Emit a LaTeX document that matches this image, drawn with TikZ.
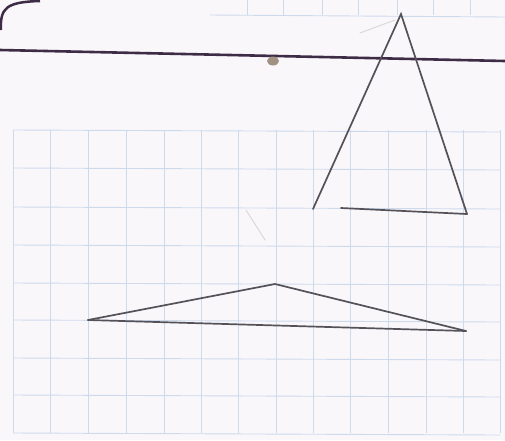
\documentclass[tikz,border=0pt]{standalone}
\definecolor{paper}{RGB}{249,247,250}
\definecolor{gridblue}{RGB}{204,218,236}
\definecolor{pencil}{RGB}{84,82,88}
\definecolor{ink}{RGB}{62,44,70}
\definecolor{smudge}{RGB}{160,145,130}
\tikzset{
  gridline/.style={draw=gridblue, line width=0.9pt},
  pencilline/.style={draw=pencil, line width=1.7pt, line cap=round},
  faint/.style={draw=pencil!22, line width=1pt, line cap=round},
}
\begin{document}
\begin{tikzpicture}[x=1pt,y=-1pt]
\fill[paper] (0,0) rectangle (505,440);
\useasboundingbox (0,0) rectangle (505,440);
% main grid
\foreach \x in {13,50,88,126,164,201,238,276,313,350,388,426,463,500}
  \draw[gridline] (\x,130) -- (\x,433);
\foreach \y in {130,168,207,245,283,320,358,395,433}
  \draw[gridline] (13,\y) -- (500,\y+2);
% top strip of grid
\draw[gridline] (210,15) -- (505,17);
\foreach \x in {247,283,322,358,397,433,470}
  \draw[gridline] (\x,0) -- (\x,15);
% corner scribble
\draw[draw=ink, line width=2.5pt] (1,30) .. controls (0,8) and (6,2) .. (40,1);
% ruled line
\coordinate (hl) at (0,50);
\coordinate (hr) at (505,61);
\draw[draw=ink, line width=2.6pt] (hl) -- (hr);
% smudge
\fill[smudge] (273,61) ellipse [x radius=6, y radius=4.5];
% faint marks
\draw[faint] (360,33) -- (395,20);
\draw[faint] (246,210) -- (265,240);
% top triangle
\coordinate (TA) at (401,14);
\coordinate (TL) at (313,209);
\coordinate (TB) at (341,208);
\coordinate (TR) at (467,214);
\draw[pencilline] (TL) -- (TA) -- (TR);
\draw[pencilline] (TB) -- (TR);
% bottom triangle
\coordinate (BL) at (88,320);
\coordinate (BA) at (275,284);
\coordinate (BR) at (466,331);
\draw[pencilline] (BL) -- (BA) -- (BR);
\draw[pencilline] (BL) -- (BR);
\end{tikzpicture}
\end{document}
